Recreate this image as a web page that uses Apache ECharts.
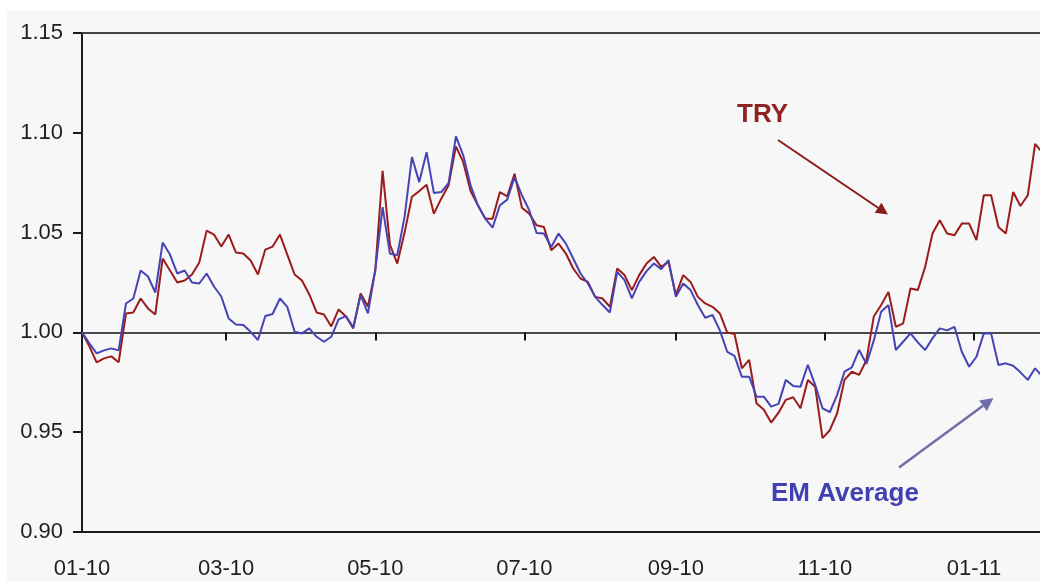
<!DOCTYPE html>
<html>
<head>
<meta charset="utf-8">
<script src="https://cdn.jsdelivr.net/npm/echarts@6/dist/echarts.min.js"></script>
<style>
  html, body { margin: 0; padding: 0; background: #ffffff; }
  #panel { position: absolute; left: 7px; top: 11px; width: 1033px; height: 570px; background: #f7f7f7; }
  #chart { position: absolute; left: 0; top: 0; width: 1040px; height: 581px; }
</style>
</head>
<body>
<div id="panel"></div>
<div id="chart"></div>
<script>
// ---- data ----
// one sample every 3 calendar days, starting 2010-01-01
const stepDays = 3;
const tickDays = [0, 59, 120, 181, 243, 304, 365];
const tickLabels = ['01-10', '03-10', '05-10', '07-10', '09-10', '11-10', '01-11'];
const yTicks = [0.90, 0.95, 1.00, 1.05, 1.10, 1.15];

const tryValues = [
  1.000, 0.993, 0.985, 0.987, 0.988, 0.985, 1.0095, 1.010, 1.017, 1.012,
  1.009, 1.037, 1.031, 1.025, 1.026, 1.029, 1.035, 1.051, 1.049, 1.043,
  1.049, 1.040, 1.0395, 1.036, 1.029, 1.0415, 1.043, 1.049, 1.039, 1.029,
  1.026, 1.019, 1.010, 1.009, 1.003, 1.0115, 1.008, 1.002, 1.0195, 1.013,
  1.031, 1.081, 1.044, 1.0345, 1.050, 1.068, 1.0708, 1.074, 1.0595, 1.067,
  1.0737, 1.0932, 1.0853, 1.0708, 1.0637, 1.057, 1.057, 1.0703, 1.0682, 1.0795,
  1.0625, 1.0595, 1.0537, 1.0528, 1.0412, 1.0445, 1.0395, 1.032, 1.027, 1.0253,
  1.0178, 1.017, 1.0128, 1.032, 1.0287, 1.0212, 1.0287, 1.0345, 1.0378, 1.0328,
  1.0353, 1.0187, 1.0287, 1.0253, 1.0178, 1.0145, 1.0128, 1.0095, 1.000, 0.9992,
  0.982, 0.9862, 0.9645, 0.9612, 0.9548, 0.9598, 0.9662, 0.9675, 0.962, 0.9762,
  0.9728, 0.947, 0.951, 0.9595, 0.9762, 0.9803, 0.9787, 0.9862, 1.008, 1.0137,
  1.0203, 1.0028, 1.0045, 1.022, 1.0212, 1.0328, 1.0495, 1.0562, 1.0495, 1.0487,
  1.0545, 1.0545, 1.0462, 1.0687, 1.0687, 1.0528, 1.0495, 1.0703, 1.0633, 1.0687,
  1.0945, 1.090
];

const emValues = [
  1.000, 0.9945, 0.9895, 0.991, 0.992, 0.991, 1.0145, 1.017, 1.031, 1.028,
  1.020, 1.045, 1.039, 1.0295, 1.031, 1.025, 1.0245, 1.0295, 1.023, 1.018,
  1.007, 1.004, 1.0037, 1.0003, 0.9962, 1.0082, 1.0092, 1.017, 1.0128, 1.0003,
  0.9995, 1.002, 0.9978, 0.9953, 0.9978, 1.0065, 1.0082, 1.0025, 1.0187, 1.0095,
  1.0312, 1.0628, 1.0395, 1.0387, 1.058, 1.0878, 1.0753, 1.0903, 1.0698, 1.0703,
  1.0748, 1.0982, 1.0887, 1.0737, 1.0637, 1.057, 1.0525, 1.0637, 1.0665, 1.0778,
  1.0687, 1.0612, 1.0498, 1.0495, 1.0428, 1.0495, 1.0445, 1.037, 1.0295, 1.0245,
  1.0178, 1.0137, 1.010, 1.0303, 1.0262, 1.017, 1.0253, 1.0307, 1.0345, 1.0317,
  1.0362, 1.0178, 1.0245, 1.0212, 1.0137, 1.0073, 1.0087, 1.001, 0.9903, 0.9882,
  0.9778, 0.9778, 0.9678, 0.9678, 0.9628, 0.9642, 0.9762, 0.9732, 0.9728, 0.9837,
  0.9737, 0.962, 0.960, 0.9687, 0.9803, 0.9825, 0.9912, 0.9842, 0.996, 1.0103,
  1.0137, 0.9912, 0.9953, 0.9995, 0.995, 0.9912, 0.997, 1.002, 1.001, 1.0028,
  0.9903, 0.9828, 0.9878, 0.9995, 0.9995, 0.9837, 0.9845, 0.9833, 0.980, 0.9762,
  0.982, 0.978
];

const seriesNames = ['TRY', 'EM Average'];
const baseLevel = 1.00;

// ---- layout / style ----
const gridTop = 33, gridBottom = 49, gridLeft = 82, gridRight = 0;
const chartH = 581;
const yMin = yTicks[0], yMax = yTicks[yTicks.length - 1];
const gridH = chartH - gridTop - gridBottom;
const baseOffset = -gridH * (baseLevel - yMin) / (yMax - yMin);
const xMax = 392;
const font = 'Liberation Sans, Arial, Helvetica, sans-serif';
const textColor = '#1e1e24';

const toXY = (arr) => arr.map((v, i) => [i * stepDays, v]);

function arrow(x1, y1, x2, y2, color, width, head) {
  const a = Math.atan2(y2 - y1, x2 - x1);
  const bx = x2 - head * Math.cos(a), by = y2 - head * Math.sin(a);
  const hw = head * 0.5;
  return [
    { type: 'line', silent: true, shape: { x1: x1, y1: y1, x2: bx, y2: by },
      style: { stroke: color, lineWidth: width } },
    { type: 'polygon', silent: true,
      shape: { points: [[x2, y2], [bx + hw * Math.sin(a), by - hw * Math.cos(a)], [bx - hw * Math.sin(a), by + hw * Math.cos(a)]] },
      style: { fill: color } }
  ];
}

const chart = echarts.init(document.getElementById('chart'), null, { renderer: 'canvas' });
chart.setOption({
  animation: false,
  backgroundColor: 'transparent',
  grid: { left: gridLeft, right: gridRight, top: gridTop, bottom: gridBottom, containLabel: false, outerBoundsMode: 'none' },
  xAxis: [
    { // bottom axis: labels + bottom frame line
      type: 'value', min: 0, max: xMax, position: 'bottom',
      axisLine: { show: true, lineStyle: { color: '#1a1a1a', width: 2 } },
      axisTick: { show: false },
      splitLine: { show: false },
      axisLabel: {
        customValues: tickDays, margin: 26, color: textColor, fontSize: 22, fontFamily: font,
        formatter: (v) => { const k = tickDays.indexOf(v); return k >= 0 ? tickLabels[k] : ''; }
      }
    },
    { // axis line at the 1.00 level with ticks
      type: 'value', min: 0, max: xMax, position: 'bottom', offset: baseOffset,
      axisLine: { show: true, lineStyle: { color: '#111', width: 1.6 } },
      axisTick: { show: true, customValues: tickDays.slice(1), length: 8, lineStyle: { color: '#111', width: 2 } },
      axisLabel: { show: false },
      splitLine: { show: false }
    },
    { // top frame line
      type: 'value', min: 0, max: xMax, position: 'top',
      axisLine: { show: true, lineStyle: { color: '#444', width: 2 } },
      axisTick: { show: false }, axisLabel: { show: false }, splitLine: { show: false }
    }
  ],
  yAxis: {
    type: 'value', min: yMin, max: yMax, interval: 0.05,
    axisLine: { show: true, lineStyle: { color: '#1a1a1a', width: 2 } },
    axisTick: { show: true, inside: false, length: 9, lineStyle: { color: '#1a1a1a', width: 2 } },
    splitLine: { show: false },
    axisLabel: { margin: 19, color: textColor, fontSize: 22, fontFamily: font, padding: [4, 0, 0, 0],
      formatter: (v) => v.toFixed(2) }
  },
  series: [
    { name: seriesNames[0], type: 'line', data: toXY(tryValues), showSymbol: false, symbol: 'none',
      lineStyle: { color: '#9b1b1b', width: 2 }, itemStyle: { color: '#9b1b1b' }, z: 3 },
    { name: seriesNames[1], type: 'line', data: toXY(emValues), showSymbol: false, symbol: 'none',
      lineStyle: { color: '#4444b6', width: 2 }, itemStyle: { color: '#4444b6' }, z: 4 }
  ],
  graphic: [
    { type: 'text', silent: true, left: 737, top: 102,
      style: { text: 'TRY', fill: '#8e2323', font: 'bold 26px ' + font } },
    ...arrow(778, 140, 888, 214.5, '#8b1a1a', 2, 12),
    { type: 'text', silent: true, left: 771, top: 481,
      style: { text: 'EM Average', fill: '#4040b2', font: 'bold 26px ' + font } },
    ...arrow(899, 467.5, 993.5, 398, '#6f6fa8', 2.5, 13)
  ]
});
</script>
</body>
</html>
